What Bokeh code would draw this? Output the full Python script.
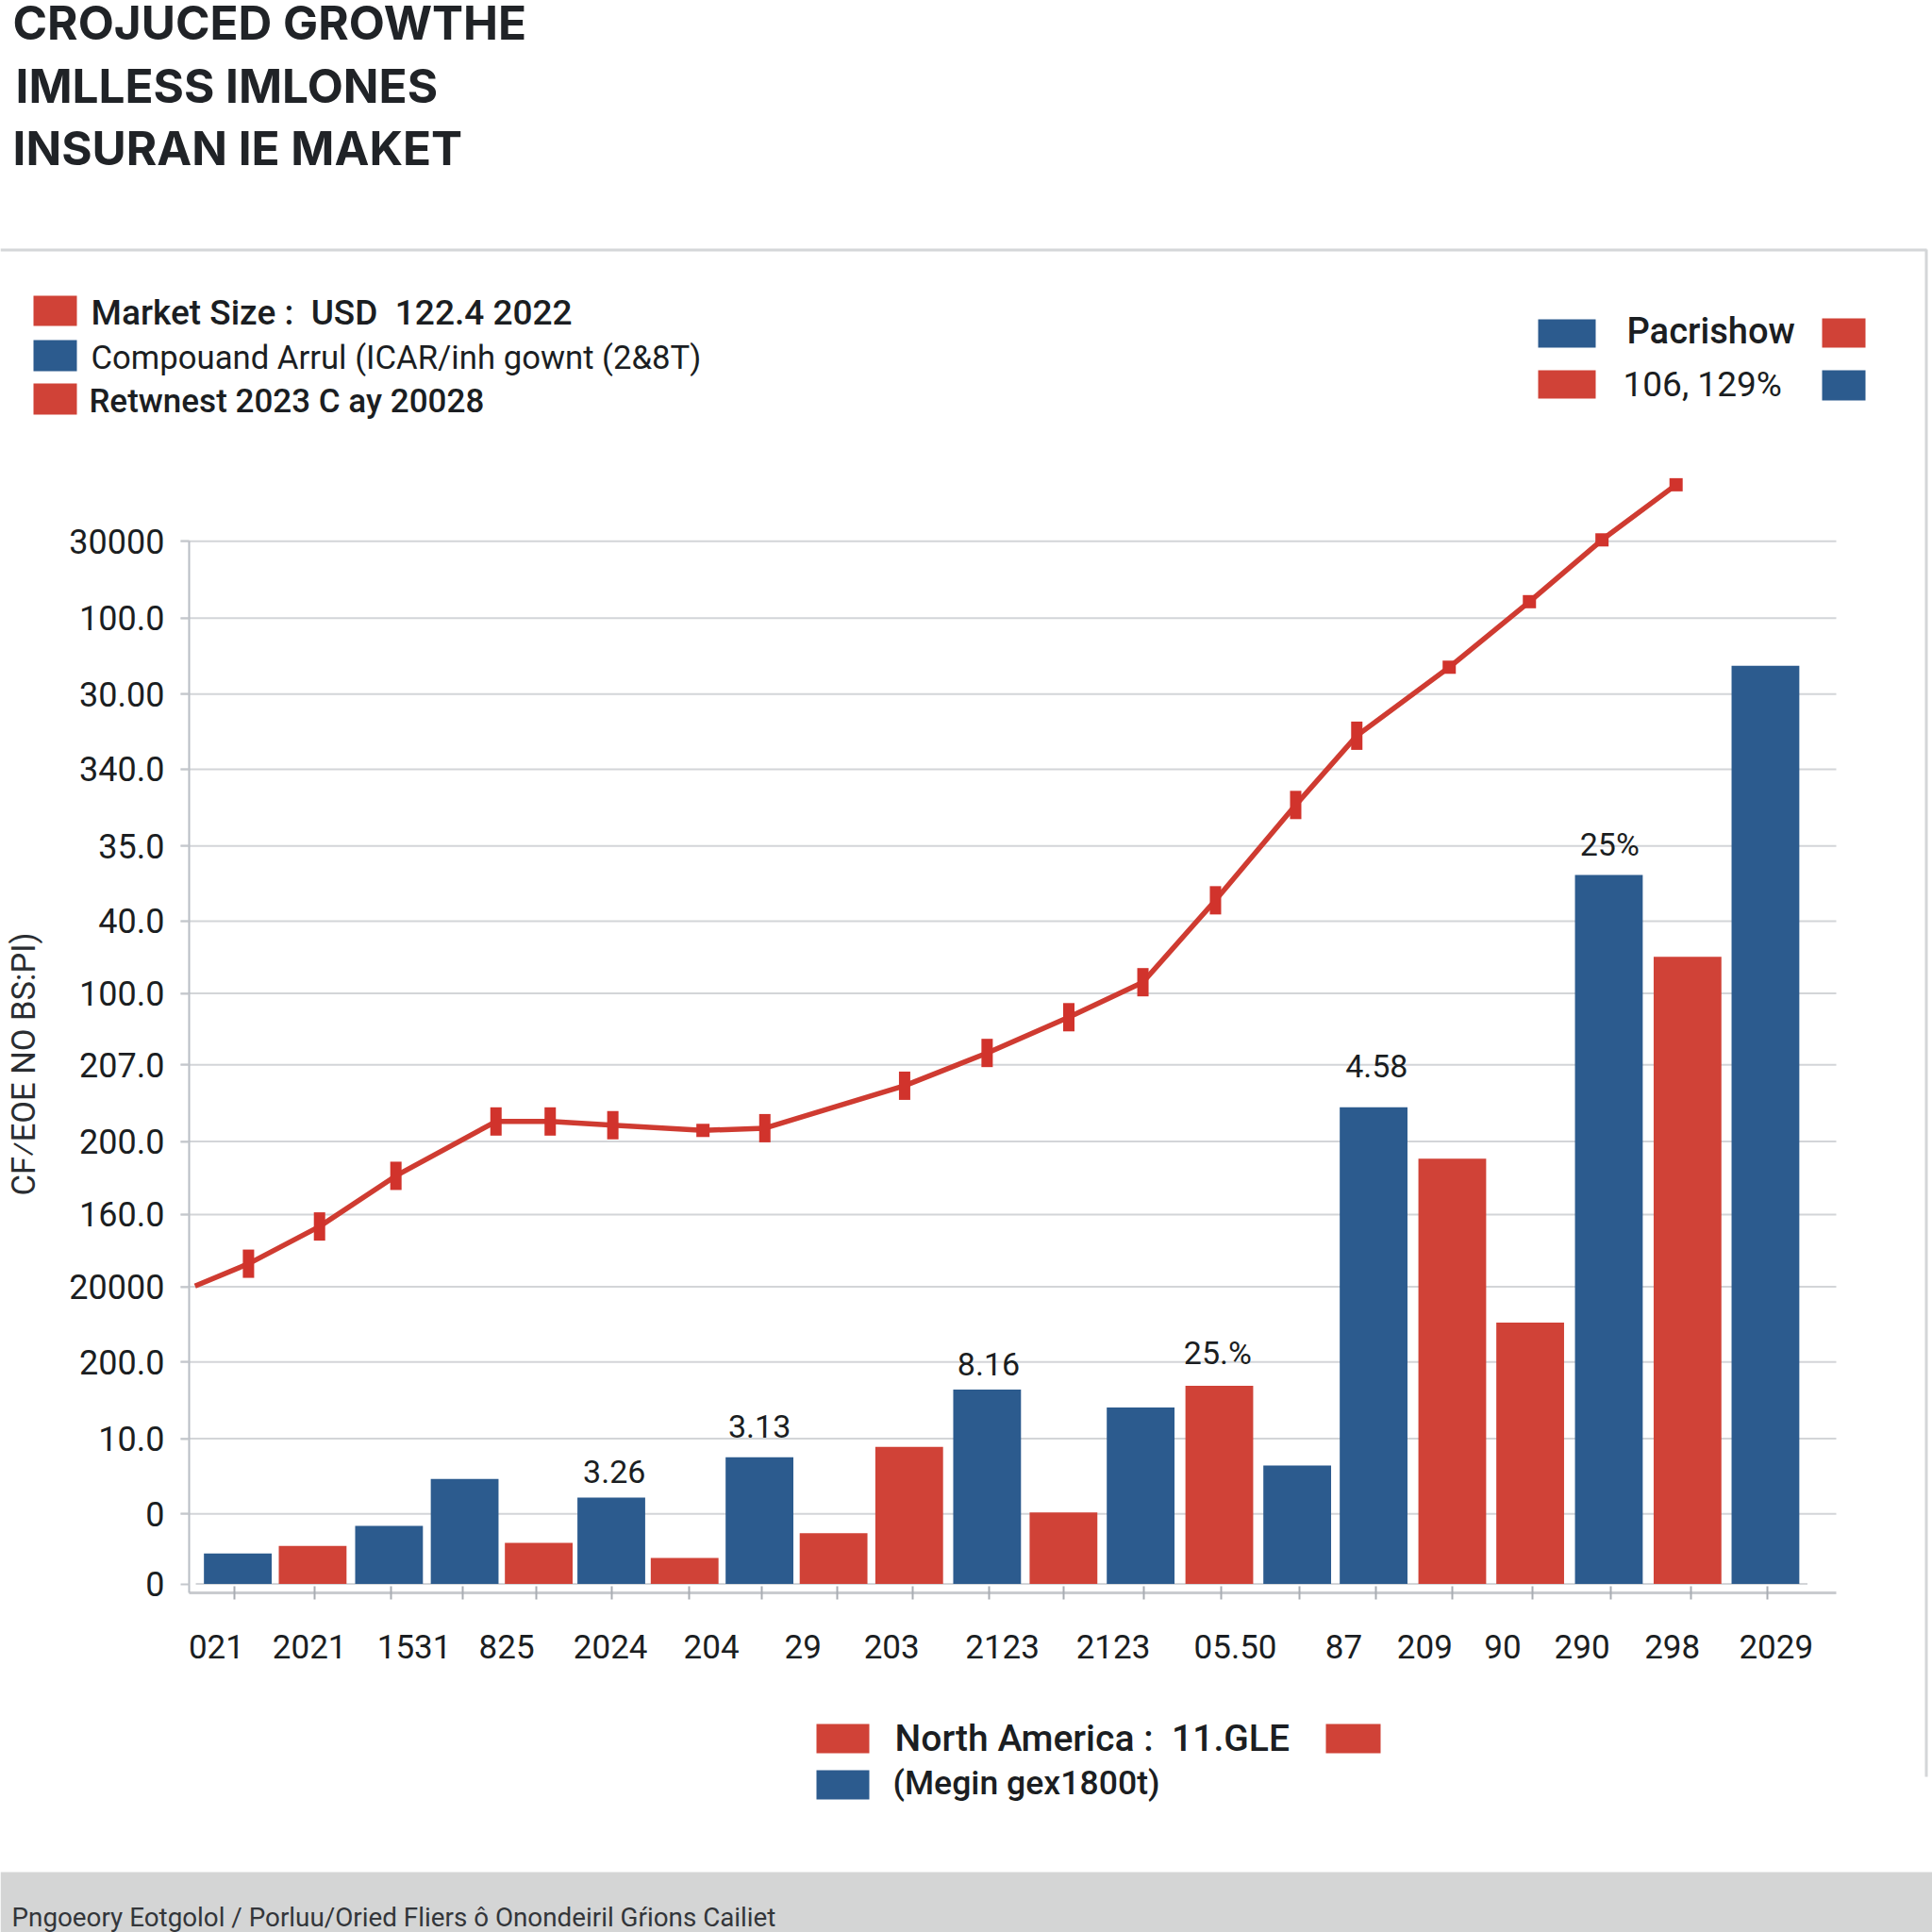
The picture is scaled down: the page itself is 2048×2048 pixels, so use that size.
import math
from bokeh.plotting import figure
from bokeh.core.properties import value
from bokeh.models import Range1d, LinearAxis, FixedTicker, ColumnDataSource
from bokeh.embed import file_html
from bokeh.resources import INLINE

BLUE = "#2c5b8e"
RED = "#d04237"
INK = "#1b1e22"
GRID = "#d3d5d8"

title_lines = ["CROJUCED GROWTHE", "IMLLESS IMLONES", "INSURAN IE MAKET"]
legend_left = ["Market Size :\u00a0 USD\u00a0 122.4 2022", "Compouand Arrul (ICAR/inh gownt (2&8T)", "Retwnest 2023 C ay 20028"]
legend_right = ["Pacrishow", "106, 129%"]
legend_bottom = ["North America :\u00a0 11.GLE", "(Megin gex1800t)"]
footer_text = "Pngoeory Eotgolol / Porluu/Oried Fliers ô Onondeiril Gŕions Cailiet"
y_title = "CF⁄EOE NO BS:PI)"

bar_slots = [1.00, 1.98, 2.98, 3.97, 4.94, 5.89, 6.85, 7.83, 8.80, 9.79, 10.81,
             11.81, 12.82, 13.85, 14.87, 15.87, 16.90, 17.92, 18.95, 19.98, 21.00]
bar_values = [41, 51, 78, 141, 55, 116, 35, 170, 68, 184, 261,
              96, 237, 266, 159, 640, 571, 351, 952, 842, 1233]
bar_series = ["b", "r", "b", "b", "r", "b", "r", "b", "r", "r", "b",
              "r", "b", "r", "b", "b", "r", "r", "b", "r", "b"]

line_slots = [0.44, 1.14, 2.07, 3.07, 4.38, 5.09, 5.91, 7.09, 7.90, 9.73, 10.81,
              11.88, 12.85, 13.80, 14.85, 15.65, 16.86, 17.91, 18.86, 19.83]
line_values = [400, 430, 480, 548, 621, 621, 616, 609, 612, 669, 713,
               761, 808, 918, 1046, 1139, 1231, 1319, 1402, 1476]
tall_marks = [1, 2, 3, 4, 5, 6, 8, 9, 10, 11, 12, 13, 14, 15]
small_marks = [7, 16, 17, 18, 19]

tick_slots = [0.95, 2.0, 3.0, 3.94, 4.91, 5.90, 6.91, 7.86, 8.85, 9.83, 10.84,
              11.81, 12.86, 13.87, 14.90, 15.90, 16.90, 17.95, 18.98, 20.02, 21.03]
x_label_slots = [0.72, 1.94, 3.31, 4.52, 5.88, 7.20, 8.40, 9.56, 11.01, 12.46, 14.06,
                 15.48, 16.54, 17.56, 18.60, 19.78, 21.14]
x_labels = ["021", "2021", "1531", "825", "2024", "204", "29", "203", "2123", "2123", "05.50",
            "87", "209", "90", "290", "298", "2029"]

y_ticks = [0, 94, 195, 298, 399, 496, 594, 697, 793, 890, 991, 1094, 1195, 1297, 1400]
y_labels = ["0", "0", "10.0", "200.0", "20000", "160.0", "200.0", "207.0", "100.0",
            "40.0", "35.0", "340.0", "30.00", "100.0", "30000"]

note_slots = [5.93, 7.83, 10.83, 13.83, 15.91, 18.96]
note_values = [151, 212, 295, 311, 695, 993]
note_texts = ["3.26", "3.13", "8.16", "25.%", "4.58", "25%"]

W, H = 2048, 2048
L, R, T, B = 200, 1946, 496, 1688      # where the chart's axes sit on the page
X0, X1 = 0.363, 21.927                 # slot range between L and R
Y0, Y1 = -12.0, 1498.0                 # value range between B and T
xs = (X1 - X0) / (R - L)
ys = (Y1 - Y0) / (B - T)

p = figure(width=W, height=H, output_backend="svg", toolbar_location=None,
           x_range=Range1d(0, W), y_range=Range1d(H, 0),
           min_border=0, min_border_left=0, min_border_right=0, min_border_top=0, min_border_bottom=0,
           outline_line_color=None, background_fill_color="white", border_fill_color="white",
           x_axis_location=None, y_axis_location=None)
p.grid.visible = False
p.extra_x_ranges["slots"] = Range1d(X0 - L * xs, X1 + (W - R) * xs)
p.extra_y_ranges["vals"] = Range1d(Y0 - (H - B) * ys, Y1 + T * ys)
ON = dict(x_range_name="slots", y_range_name="vals")


def box(l, r, t, b, color):
    p.quad(left=[l], right=[r], top=[t], bottom=[b], fill_color=color, line_color=None)


def text(x, y, s, size, bold=False, color=INK, font="Roboto", angle=0.0):
    # this text glyph sets its alphabetic baseline about 0.4 em below the given point
    d = 0.4 * size
    if angle:
        x -= d
    else:
        y -= d
    p.text([x], [y], text=[s], text_font=value(font), text_font_size=f"{size}px",
           text_font_style="bold" if bold else "normal", text_color=color,
           text_align="left", text_baseline="alphabetic", angle=angle)


# gridlines, from the y ticks
p.segment(x0=[X0 - 9 * xs] * 14, x1=[X1] * 14, y0=y_ticks[1:], y1=y_ticks[1:],
          line_color=GRID, line_width=2, **ON)
p.segment(x0=[bar_slots[0] - 0.55], x1=[bar_slots[-1] + 0.55], y0=[0], y1=[0],
          line_color=GRID, line_width=2, **ON)

# axes
yaxis = LinearAxis(ticker=FixedTicker(ticks=y_ticks), fixed_location=X0,
                   major_label_overrides={t: s for t, s in zip(y_ticks, y_labels)},
                   bounds=(Y0, 1400), axis_line_color="#b8bdc4", axis_line_width=2,
                   major_tick_line_color="#c4c7cc", major_tick_line_width=2,
                   major_tick_out=9, major_tick_in=0, minor_tick_out=0, minor_tick_in=0,
                   major_label_text_font="Roboto", major_label_text_font_size="36px",
                   major_label_text_color=INK, major_label_standoff=17, **ON)
p.add_layout(yaxis, "left")

xticks = LinearAxis(ticker=FixedTicker(ticks=tick_slots), fixed_location=Y0,
                    major_label_overrides={t: "" for t in tick_slots}, bounds=(X0, X1),
                    axis_line_color="#c9cbcf", axis_line_width=3,
                    major_tick_line_color="#a9adb3", major_tick_line_width=2,
                    major_tick_out=7, major_tick_in=7, minor_tick_out=0, minor_tick_in=0,
                    major_label_standoff=0, **ON)
p.add_layout(xticks, "below")

xlabels = LinearAxis(ticker=FixedTicker(ticks=x_label_slots), fixed_location=Y0,
                     major_label_overrides={t: s for t, s in zip(x_label_slots, x_labels)},
                     axis_line_color=None, major_tick_line_color=None, minor_tick_line_color=None,
                     major_tick_out=0, major_tick_in=0, minor_tick_out=0, minor_tick_in=0,
                     major_label_text_font="Roboto", major_label_text_font_size="35px",
                     major_label_text_color=INK, major_label_standoff=44, **ON)
p.add_layout(xlabels, "below")

# bars
src = ColumnDataSource(dict(x=bar_slots, top=bar_values,
                            color=[BLUE if s == "b" else RED for s in bar_series]))
p.vbar(x="x", top="top", bottom=0, width=0.887, source=src, fill_color="color", line_color=None, **ON)

# line and markers
p.line(line_slots, line_values, line_color="#cf3b31", line_width=5.5, **ON)
p.rect([line_slots[i] for i in tall_marks], [line_values[i] for i in tall_marks],
       width=12, height=30, width_units="screen", height_units="screen",
       fill_color="#d1332c", line_color=None, **ON)
p.rect([line_slots[i] for i in small_marks], [line_values[i] for i in small_marks],
       width=14, height=14, width_units="screen", height_units="screen",
       fill_color="#d1332c", line_color=None, **ON)

# value notes
p.text(note_slots, note_values, text=note_texts, text_font=value("Roboto"), text_font_size="34px",
       text_color=INK, text_align="center", text_baseline="middle", **ON)

# page chrome
box(0, 2042, 263, 266, "#d4d6d8")
box(2040, 2043, 264, 1883, "#d4d6d8")
box(0, 2048, 1984, 2048, "#d4d5d5")

for t, (x, y) in zip(title_lines, [(13, 43), (16, 110), (13, 176)]):
    text(x, y, t, 49.5, bold=True, font="Inter", color="#202327")

box(35, 81, 313, 345, RED)
box(35, 81, 360, 393, BLUE)
box(35, 81, 406, 439, RED)
text(96, 346, legend_left[0], 37, font="Roboto Medium")
text(96, 392, legend_left[1], 34.7)
text(94, 439, legend_left[2], 35, font="Roboto Medium")

box(1630, 1691, 338, 368, BLUE)
box(1931, 1977, 337, 368, RED)
box(1630, 1691, 392, 422, RED)
box(1931, 1977, 392, 424, BLUE)
text(1724, 366, legend_right[0], 38, font="Roboto Medium")
text(1720, 422, legend_right[1], 37)

box(865, 921, 1827, 1858, RED)
box(1405, 1463, 1827, 1858, RED)
box(865, 921, 1876, 1907, BLUE)
text(948, 1858, legend_bottom[0], 39, font="Roboto Medium")
text(946, 1904, legend_bottom[1], 35.6, font="Roboto Medium")

text(12, 2043, footer_text, 27.8, color="#33363a")
text(38, 1267, y_title, 34.5, color="#2a2d31", angle=math.pi / 2)

open("out.html", "w").write(file_html(p, INLINE))
